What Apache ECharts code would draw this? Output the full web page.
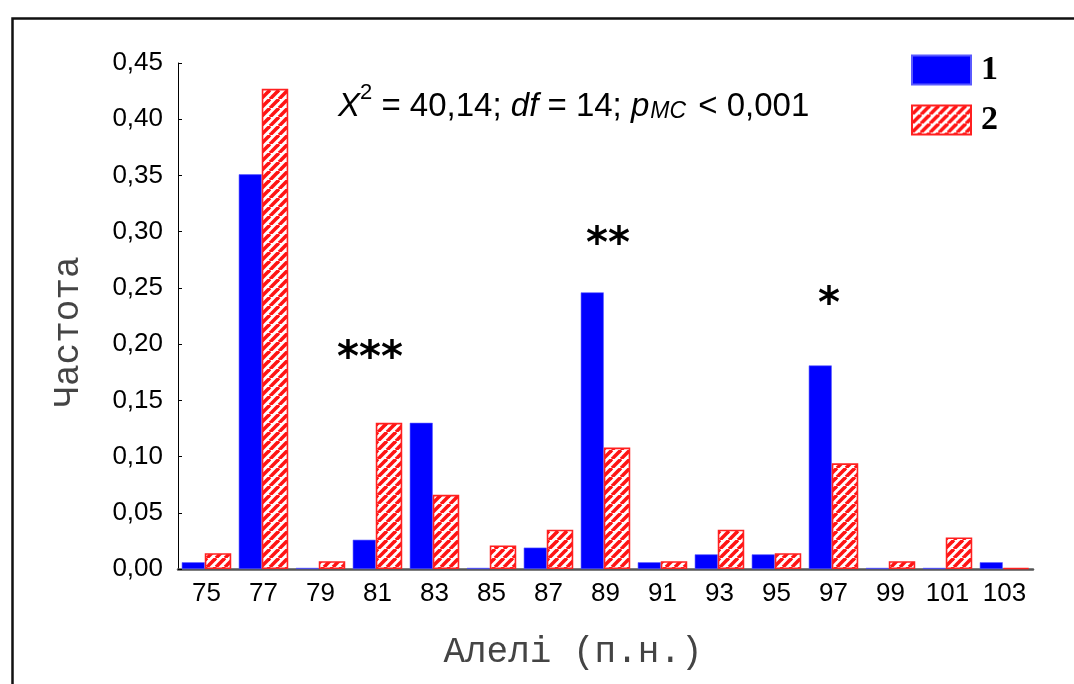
<!DOCTYPE html>
<html>
<head>
<meta charset="utf-8">
<script src="https://cdn.jsdelivr.net/npm/echarts@6/dist/echarts.min.js"></script>
<style>
  html, body { margin: 0; padding: 0; background: #fff; }
  #chart { width: 1074px; height: 684px; }
</style>
</head>
<body>
<div id="chart"></div>
<script>
// Allele sizes (bp) and their frequencies in the two groups
const alleles = ['75', '77', '79', '81', '83', '85', '87', '89', '91', '93', '95', '97', '99', '101', '103'];
const group1 = [0.006, 0.351, 0.001, 0.026, 0.130, 0.001, 0.019, 0.246, 0.006, 0.013, 0.013, 0.181, 0.001, 0.001, 0.006];
const group2 = [0.014, 0.427, 0.007, 0.130, 0.066, 0.021, 0.035, 0.108, 0.007, 0.035, 0.014, 0.094, 0.007, 0.028, 0.001];
const seriesNames = ['1', '2'];
const yTicks = { min: 0, max: 0.45, step: 0.05 };
const axisTitles = { x: 'Алелі (п.н.)', y: 'Частота' };
const statText = { chi: '40,14', df: '14', p: '0,001' };
const signif = ['***', '**', '*'];

// Red diagonal hatch tile for group 2
function hatchPattern() {
  const size = 9;
  const c = document.createElement('canvas');
  c.width = size; c.height = size;
  const ctx = c.getContext('2d');
  ctx.fillStyle = '#ffffff';
  ctx.fillRect(0, 0, size, size);
  ctx.strokeStyle = '#ff1414';
  ctx.lineWidth = 3.6;
  for (let k = -1; k <= 2; k++) {
    ctx.beginPath();
    ctx.moveTo(k * size - size, size);
    ctx.lineTo(k * size, 0);
    ctx.stroke();
  }
  return { image: c, repeat: 'repeat' };
}

const chart = echarts.init(document.getElementById('chart'));
const axisTitleStyle = { fontFamily: 'Liberation Mono', fontSize: 36, fill: '#444', align: 'center', verticalAlign: 'middle' };
const starStyle = { fontFamily: 'DejaVu Sans', fontWeight: 'bold', fontSize: 42, fill: '#000', align: 'center', verticalAlign: 'middle' };

chart.setOption({
  animation: false,
  backgroundColor: '#fff',
  grid: { left: 178, right: 41, top: 63, bottom: 115 },
  legend: {
    orient: 'vertical',
    left: 911,
    top: 53,
    padding: 0,
    icon: 'rect',
    itemWidth: 59,
    itemHeight: 29,
    itemGap: 16,
    data: seriesNames,
    textStyle: { fontFamily: 'Liberation Serif', fontWeight: 'bold', fontSize: 34, color: '#000', padding: [0, 0, 0, 5] }
  },
  xAxis: {
    type: 'category',
    data: alleles,
    axisLine: { lineStyle: { color: '#555', width: 2.5 } },
    axisTick: { show: false },
    axisLabel: { fontFamily: 'Liberation Sans', fontSize: 26, color: '#000', margin: 12, interval: 0 }
  },
  yAxis: {
    type: 'value',
    min: yTicks.min,
    max: yTicks.max,
    interval: yTicks.step,
    axisLine: { show: true, lineStyle: { color: '#000', width: 1 } },
    axisTick: { show: true, inside: true, length: 4, lineStyle: { color: '#000' } },
    splitLine: { show: false },
    axisLabel: {
      fontFamily: 'Liberation Sans', fontSize: 26, color: '#000', margin: 15,
      formatter: v => v.toFixed(2).replace('.', ',')
    }
  },
  series: [
    {
      name: seriesNames[0],
      type: 'bar',
      data: group1,
      barWidth: 23,
      barGap: '0%',
      itemStyle: { color: '#0000ff', borderColor: '#5a5aff', borderWidth: 0.6 }
    },
    {
      name: seriesNames[1],
      type: 'bar',
      data: group2,
      barWidth: 26.5,
      barGap: '0%',
      itemStyle: { color: hatchPattern(), borderColor: '#ff2020', borderWidth: 1.6 }
    }
  ],
  graphic: [
    // outer frame
    { type: 'rect', left: 10, top: 16, shape: { x: 0, y: 0, width: 1100, height: 700 },
      style: { fill: 'none', stroke: '#111', lineWidth: 2.5 }, silent: true },
    // axis titles
    { type: 'text', x: 573, y: 652, style: Object.assign({ text: axisTitles.x }, axisTitleStyle) },
    { type: 'text', x: 68, y: 332, rotation: Math.PI / 2, style: Object.assign({ text: axisTitles.y }, axisTitleStyle) },
    // test statistic
    {
      type: 'text', left: 338, top: 82,
      style: {
        text: '{i|X}{sup|2}{n| = ' + statText.chi + '; }{i|df}{n| = ' + statText.df + '; }{i|p}{sub|MC}{n| < ' + statText.p + '}',
        rich: {
          n: { fontFamily: 'Liberation Sans', fontSize: 33, color: '#000', lineHeight: 41, verticalAlign: 'bottom' },
          i: { fontFamily: 'Liberation Sans', fontStyle: 'italic', fontSize: 33, color: '#000', lineHeight: 41, verticalAlign: 'bottom' },
          sup: { fontFamily: 'Liberation Sans', fontSize: 22, color: '#000', lineHeight: 41, verticalAlign: 'top' },
          sub: { fontFamily: 'Liberation Sans', fontStyle: 'italic', fontSize: 23, color: '#000', lineHeight: 32, verticalAlign: 'bottom', padding: [0, 3, 0, 1] }
        }
      }
    },
    // significance markers
    { type: 'text', x: 370, y: 360, style: Object.assign({ text: signif[0] }, starStyle) },
    { type: 'text', x: 608, y: 246, style: Object.assign({ text: signif[1] }, starStyle) },
    { type: 'text', x: 829, y: 306, style: Object.assign({ text: signif[2] }, starStyle) }
  ]
});
</script>
</body>
</html>
